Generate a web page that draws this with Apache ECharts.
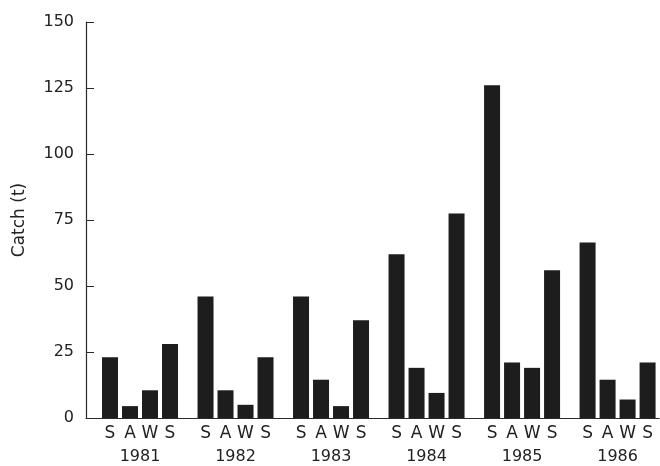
<!DOCTYPE html>
<html>
<head>
<meta charset="utf-8">
<script src="https://cdn.jsdelivr.net/npm/echarts@6/dist/echarts.min.js"></script>
<style>
  html, body { margin: 0; padding: 0; background: #fff; }
  #chart { width: 660px; height: 466px; }
</style>
</head>
<body>
<div id="chart"></div>
<script>
// catch by season, S A W S for each year
var years = ['1981', '1982', '1983', '1984', '1985', '1986'];
var seasonLabels = ['S', 'A', 'W', 'S'];
var summer = [23, 46, 46, 62, 126, 66.5];
var autumn = [4.5, 10.5, 14.5, 19, 21, 14.5];
var winter = [10.5, 5, 4.5, 9.5, 19, 7];
var spring = [28, 23, 37, 77.5, 56, 21];
var yTicks = [0, 25, 50, 75, 100, 125, 150];

var barColor = '#1d1d1d';
var axisColor = '#2a2a2a';
var font = 'DejaVu Sans';

function barSeries(name, data) {
  return {
    name: name,
    type: 'bar',
    data: data,
    barWidth: 16,
    barGap: '25%',
    itemStyle: { color: barColor },
    silent: true
  };
}

var chart = echarts.init(document.getElementById('chart'));
chart.setOption({
  animation: false,
  grid: { left: 86, right: -6, top: 22, bottom: 48, containLabel: false },
  xAxis: {
    type: 'category',
    data: years,
    axisLine: { lineStyle: { color: axisColor, width: 1.2 } },
    axisTick: { show: false },
    axisLabel: {
      interval: 0,
      hideOverlap: false,
      margin: 5,
      padding: [0, 0, 0, 12.5],
      formatter: function (v) {
        var top = seasonLabels.map(function (s) { return '{l|' + s + '}'; }).join('');
        return top + '\n{y|' + v + '}';
      },
      rich: {
        l: { width: 20, align: 'center', fontSize: 17, lineHeight: 22, fontFamily: font, color: '#222' },
        y: { fontSize: 16, lineHeight: 24, fontFamily: font, color: '#222' }
      }
    }
  },
  yAxis: {
    type: 'value',
    min: yTicks[0],
    max: yTicks[yTicks.length - 1],
    interval: 25,
    name: 'Catch (t)',
    nameLocation: 'middle',
    nameGap: 58,
    nameTextStyle: { fontSize: 17, fontFamily: font, color: '#222' },
    axisLine: { show: true, lineStyle: { color: axisColor, width: 1.2 } },
    axisTick: { show: true, inside: true, length: 8, lineStyle: { color: axisColor } },
    splitLine: { show: false },
    axisLabel: { margin: 12, fontSize: 16, fontFamily: font, color: '#222' }
  },
  series: [
    // empty spacer so the groups sit a bit right of the y axis
    { type: 'bar', data: years.map(function () { return '-'; }), barWidth: 10, barGap: '25%', silent: true },
    barSeries('Summer', summer),
    barSeries('Autumn', autumn),
    barSeries('Winter', winter),
    barSeries('Spring', spring)
  ]
});
</script>
</body>
</html>
